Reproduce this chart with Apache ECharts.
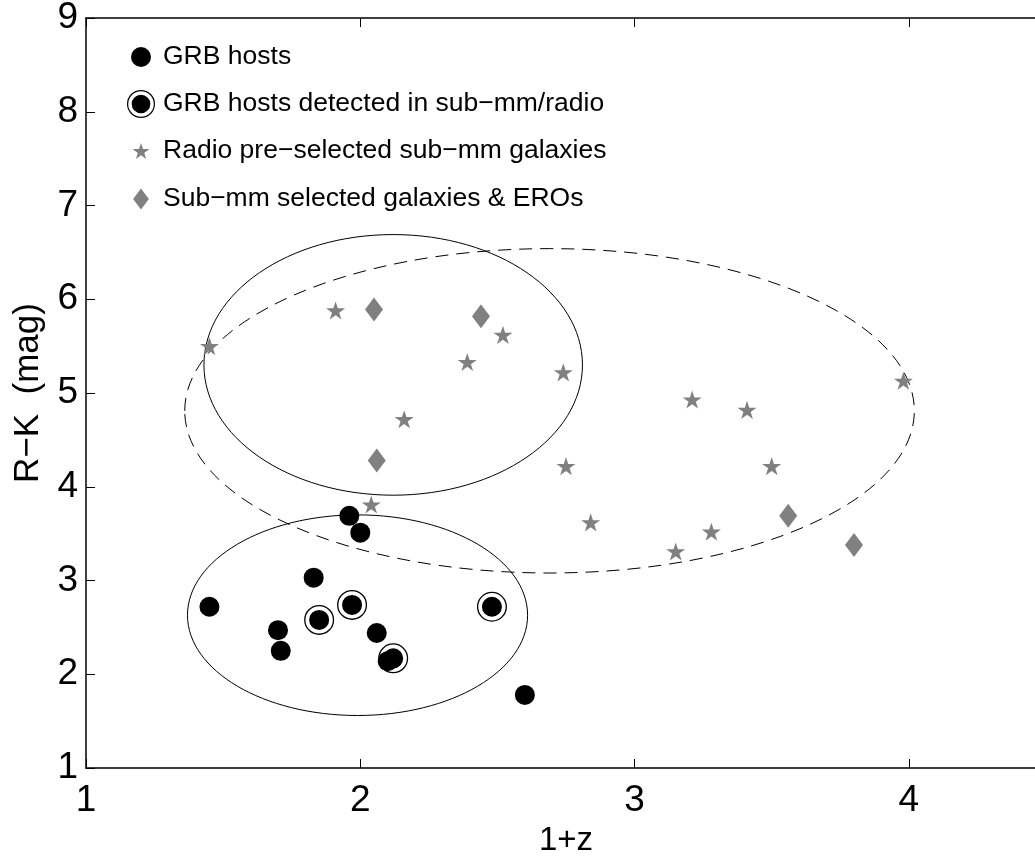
<!DOCTYPE html>
<html>
<head>
<meta charset="utf-8">
<title>R−K colour versus 1+z</title>
<script src="https://cdn.jsdelivr.net/npm/echarts@6/dist/echarts.min.js"></script>
<style>
  html, body { margin: 0; padding: 0; background: #fff; }
  #chart { width: 1035px; height: 856px; }
</style>
</head>
<body>
<div id="chart"></div>
<script>
// ---- values: [1+z, R−K] ----
const grbHosts = [
  [1.45, 2.72], [1.70, 2.47], [1.71, 2.25], [1.83, 3.03], [1.96, 3.69],
  [2.00, 3.51], [2.06, 2.44], [2.10, 2.14], [2.60, 1.78]
];
const grbDetected = [
  [1.85, 2.58], [1.97, 2.74], [2.12, 2.17], [2.48, 2.72]
];
const radioSMG = [
  [1.45, 5.50], [1.91, 5.88], [2.04, 3.81], [2.16, 4.72], [2.39, 5.33],
  [2.52, 5.62], [2.74, 5.22], [2.75, 4.22], [2.84, 3.62], [3.15, 3.31],
  [3.21, 4.93], [3.28, 3.52], [3.41, 4.82], [3.50, 4.22], [3.98, 5.13]
];
const submmEROs = [
  [2.05, 5.89], [2.06, 4.28], [2.44, 5.82], [3.56, 3.69], [3.80, 3.38]
];
// regions: [centre 1+z, centre R−K, half-width, half-height]
const solidRegions = [
  [2.12, 5.30, 0.69, 1.39],
  [1.99, 2.63, 0.62, 1.07]
];
const dashedRegions = [
  [2.69, 4.81, 1.33, 1.73]
];
const xTicks = { min: 1, max: 4.5, step: 1 };
const yTicks = { min: 1, max: 9, step: 1 };
const seriesNames = [
  'GRB hosts',
  'GRB hosts detected in sub−mm/radio',
  'Radio pre−selected sub−mm galaxies',
  'Sub−mm selected galaxies & EROs'
];

// ---- marker shapes ----
const STAR = 'path://M10 0 L12.245 6.91 L19.511 6.91 L13.633 11.18 L15.878 18.09 L10 13.82 L4.122 18.09 L6.367 11.18 L0.489 6.91 L7.755 6.91 Z';
const DIAMOND = 'path://M9 0 L18 12 L9 24 L0 12 Z';
const RING_DOT = 'path://M0 15 A15 15 0 1 1 30 15 A15 15 0 1 1 0 15 Z ' +
  'M1.3 15 A13.7 13.7 0 1 0 28.7 15 A13.7 13.7 0 1 0 1.3 15 Z ' +
  'M5 15 A10 10 0 1 1 25 15 A10 10 0 1 1 5 15 Z';

const FONT = "'Liberation Sans', Arial, Helvetica, sans-serif";
const GREY = '#808080';

function ellipseRenderer(dash) {
  return function (params, api) {
    const c = api.coord([api.value(0), api.value(1)]);
    const s = api.size([api.value(2), api.value(3)]);
    return {
      type: 'ellipse',
      shape: { cx: c[0], cy: c[1], rx: s[0], ry: s[1] },
      style: { fill: null, stroke: '#000', lineWidth: 1, lineDash: dash }
    };
  };
}

// One legend per row so each icon keeps its own size.
// iconHalfWidth: half of the drawn icon's width, so all icons share one centre line.
const LEGEND_ICON_X = 141;
function legendRow(name, icon, itemHeight, iconHalfWidth, rowY) {
  return {
    left: LEGEND_ICON_X - iconHalfWidth,
    top: rowY - 13,
    padding: 0,
    itemWidth: 34,
    itemHeight: itemHeight,
    selectedMode: false,
    symbolKeepAspect: true,
    textStyle: { fontSize: 26.5, color: '#000', fontFamily: FONT, lineHeight: 30 },
    data: [{ name: name, icon: icon }]
  };
}

const axisLineStyle = { show: true, lineStyle: { color: '#000', width: 1.5 } };
const tickStyle = { show: true, inside: true, length: 9, lineStyle: { color: '#000', width: 1 } };

const option = {
  animation: false,
  backgroundColor: '#fff',
  grid: { left: 86, top: 18, width: 960, height: 750, outerBoundsMode: 'none' },
  legend: [
    legendRow(seriesNames[0], 'circle', 20, 10, 55),
    legendRow(seriesNames[1], RING_DOT, 28, 14, 102),
    legendRow(seriesNames[2], STAR, 16, 8.4, 149),
    legendRow(seriesNames[3], DIAMOND, 21, 7.9, 197)
  ],
  xAxis: [
    {
      type: 'value', position: 'bottom',
      min: xTicks.min, max: xTicks.max, interval: xTicks.step,
      axisLine: axisLineStyle, axisTick: tickStyle,
      splitLine: { show: false },
      axisLabel: { fontSize: 37, color: '#000', fontFamily: FONT, margin: 14, showMaxLabel: false },
      name: '1+z', nameLocation: 'middle', nameGap: 56,
      nameTextStyle: { fontSize: 33, color: '#000', fontFamily: FONT }
    },
    {
      type: 'value', position: 'top',
      min: xTicks.min, max: xTicks.max, interval: xTicks.step,
      axisLine: axisLineStyle, axisTick: tickStyle,
      splitLine: { show: false }, axisLabel: { show: false }
    }
  ],
  yAxis: {
    type: 'value',
    min: yTicks.min, max: yTicks.max, interval: yTicks.step,
    axisLine: axisLineStyle, axisTick: tickStyle,
    splitLine: { show: false },
    axisLabel: { fontSize: 37, color: '#000', fontFamily: FONT, margin: 8 },
    name: 'R−K  (mag)', nameLocation: 'middle', nameGap: 40, nameRotate: 90,
    nameTextStyle: { fontSize: 35, color: '#000', fontFamily: FONT }
  },
  series: [
    {
      type: 'custom', silent: true, renderItem: ellipseRenderer(null),
      data: solidRegions, encode: { x: 0, y: 1 }, z: 1
    },
    {
      type: 'custom', silent: true, renderItem: ellipseRenderer([13, 8]),
      data: dashedRegions, encode: { x: 0, y: 1 }, z: 1
    },
    {
      name: seriesNames[2], type: 'scatter', data: radioSMG,
      symbol: STAR, symbolSize: 19, symbolKeepAspect: true,
      itemStyle: { color: GREY, opacity: 1 }, z: 2
    },
    {
      name: seriesNames[3], type: 'scatter', data: submmEROs,
      symbol: DIAMOND, symbolSize: [18, 24],
      itemStyle: { color: GREY, opacity: 1 }, z: 2
    },
    {
      name: seriesNames[1], type: 'scatter', data: grbDetected,
      symbol: RING_DOT, symbolSize: 30, symbolKeepAspect: true,
      itemStyle: { color: '#000', opacity: 1 }, z: 3
    },
    {
      name: seriesNames[0], type: 'scatter', data: grbHosts,
      symbol: 'circle', symbolSize: 20,
      itemStyle: { color: '#000', opacity: 1 }, z: 4
    }
  ]
};

const chart = echarts.init(document.getElementById('chart'), null, { renderer: 'canvas' });
chart.setOption(option);
</script>
</body>
</html>
